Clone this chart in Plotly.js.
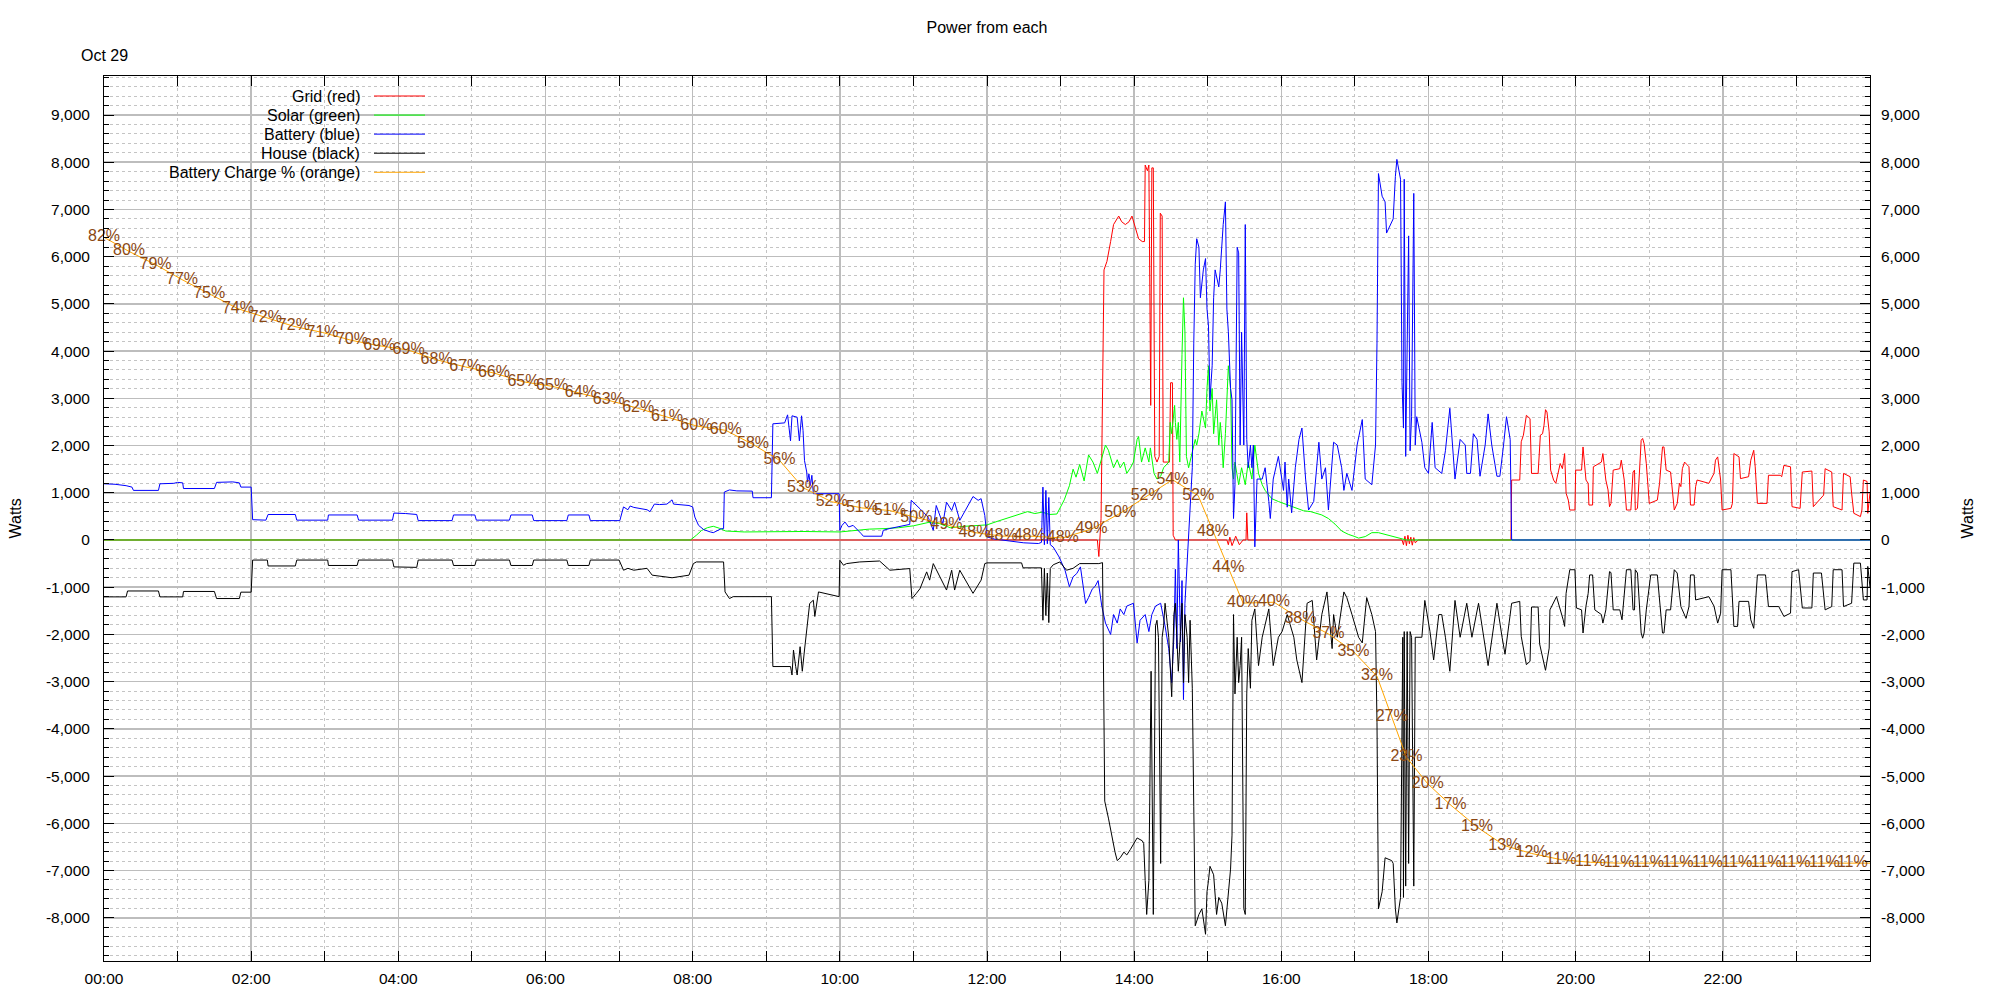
<!DOCTYPE html>
<html>
<head>
<meta charset="utf-8">
<script src="https://cdn.plot.ly/plotly-3.0.1.min.js"></script>
<style>html,body{margin:0;padding:0;background:#fff;}#chart{width:2000px;height:1000px;}</style>
</head>
<body>
<div id="chart"></div>
<script>
// ---------- DATA (hours of day, watts) ----------
const xTickVals = [0,2,4,6,8,10,12,14,16,18,20,22];
const xTickText = ["00:00","02:00","04:00","06:00","08:00","10:00","12:00","14:00","16:00","18:00","20:00","22:00"];
const yTickVals = [-8000,-7000,-6000,-5000,-4000,-3000,-2000,-1000,0,1000,2000,3000,4000,5000,6000,7000,8000,9000];
const yTickText = ["-8,000","-7,000","-6,000","-5,000","-4,000","-3,000","-2,000","-1,000","0","1,000","2,000","3,000","4,000","5,000","6,000","7,000","8,000","9,000"];

const seriesNames = ["Grid (red)","Solar (green)","Battery (blue)","House (black)","Battery Charge % (orange)"];
const seriesColors = ["#ff0000","#00ff00","#0000ff","#000000","#ffa500"];

const gridHours = [0,13.50,13.52,13.55,13.59,13.61,13.63,13.68,13.72,13.79,13.83,13.88,13.93,13.97,14.02,14.06,14.11,14.14,14.15,14.18,14.20,14.215,14.225,14.24,14.26,14.28,14.31,14.34,14.355,14.38,14.395,14.48,14.495,14.52,14.53,14.56,15.26,15.28,15.30,15.33,15.38,15.43,15.48,15.52,15.53,15.545,17.64,17.66,17.68,17.70,17.72,17.74,17.76,17.78,17.80,17.82,17.86,19.12,19.13,19.24,19.26,19.29,19.31,19.33,19.38,19.40,19.49,19.50,19.52,19.55,19.57,19.59,19.61,19.64,19.66,19.70,19.73,19.77,19.79,19.82,19.84,19.85,19.87,19.90,19.92,19.99,20.00,20.08,20.10,20.12,20.14,20.17,20.18,20.23,20.24,20.35,20.37,20.39,20.41,20.44,20.46,20.48,20.51,20.60,20.62,20.66,20.69,20.75,20.78,20.80,20.81,20.84,20.87,20.89,20.91,20.93,20.96,20.98,21.00,21.11,21.14,21.16,21.18,21.20,21.23,21.29,21.32,21.34,21.38,21.41,21.43,21.45,21.48,21.52,21.54,21.56,21.61,21.63,21.65,21.81,21.88,21.90,21.93,21.97,21.99,22.11,22.13,22.15,22.22,22.24,22.35,22.38,22.42,22.44,22.47,22.60,22.62,22.78,22.80,22.83,22.92,22.94,23.05,23.08,23.21,23.23,23.37,23.39,23.48,23.50,23.62,23.64,23.73,23.75,23.78,23.87,23.89,23.91,23.96,23.97,24.00];
const gridWatts = [0,0,-350,450,5720,5840,5900,6320,6680,6860,6740,6680,6740,6860,6560,6380,6320,6320,7940,7820,7940,4650,2850,7880,7880,1770,1650,1770,6920,6860,1650,1650,3330,3330,100,0,0,-100,60,-120,80,-100,0,0,575,0,0,-100,80,-120,100,-80,60,-110,50,-60,0,0,1270,1270,2080,2220,2460,2640,2570,1410,1410,1620,2220,2250,2430,2760,2710,2290,1480,1270,1200,1480,1620,1510,1800,1830,990,845,635,635,1480,1480,1970,1590,1270,1200,740,740,1550,1650,1830,1550,1270,1060,705,775,1480,1510,1690,1270,635,635,1440,1480,635,670,1620,2110,2150,2040,1620,1200,775,845,1200,1590,1970,1970,1480,1440,915,635,775,1200,1130,1510,1650,1580,1550,740,740,1130,1270,1200,1410,1690,1760,1270,635,670,775,1830,1760,1300,1340,1690,1900,1550,775,775,1370,1370,1340,1580,1550,705,670,1440,1460,705,950,1510,1440,705,635,1410,1340,990,565,495,635,1270,1240,565,1000];

const solarHours = [0,7.97,8.05,8.12,8.20,8.28,8.36,8.45,8.70,9.00,9.50,10.00,10.20,10.40,10.60,10.80,11.00,11.20,11.35,11.50,11.70,11.85,12.00,12.15,12.30,12.45,12.55,12.65,12.75,12.85,12.95,13.05,13.12,13.17,13.21,13.26,13.32,13.38,13.44,13.50,13.55,13.61,13.65,13.72,13.77,13.81,13.86,13.90,13.95,13.99,14.04,14.06,14.10,14.15,14.20,14.22,14.27,14.31,14.36,14.40,14.47,14.49,14.51,14.54,14.55,14.56,14.58,14.60,14.62,14.65,14.67,14.69,14.71,14.74,14.76,14.83,14.85,14.88,14.92,14.94,14.97,14.99,15.01,15.03,15.06,15.08,15.10,15.12,15.15,15.17,15.19,15.21,15.24,15.26,15.28,15.31,15.33,15.35,15.37,15.42,15.46,15.51,15.55,15.60,15.64,15.69,15.74,15.78,15.87,15.96,16.10,16.30,16.40,16.55,16.64,16.73,16.82,16.91,17.00,17.05,17.14,17.23,17.32,17.41,17.50,17.60,17.70,24.00];
const solarWatts = [0,0,100,200,260,290,250,190,170,175,180,170,200,230,240,260,300,370,350,260,290,300,320,400,480,560,600,560,590,540,550,850,1150,1500,1330,1600,1250,1800,1650,1410,1700,2010,1900,1530,1700,1530,1650,1410,1530,1650,2130,2190,1650,1950,1650,1950,1410,1290,1350,1530,1650,2490,2250,2730,2850,2490,2130,2490,1650,3930,5130,4400,1770,1530,1650,2130,2010,2250,2730,2610,2370,3210,3690,2730,3210,2250,2730,2970,2010,2490,2130,1530,2250,2970,3690,3210,1530,1290,1650,1170,1530,1170,1650,1290,2010,1410,1170,1050,875,815,740,620,600,530,455,335,190,120,72,40,72,155,155,120,72,40,0,0];

const batteryHours = [0,0.15,0.30,0.38,0.40,0.74,0.76,0.95,1.00,1.07,1.08,1.50,1.53,1.75,1.84,1.86,2.00,2.02,2.20,2.23,2.60,2.62,3.04,3.05,3.44,3.46,3.92,3.94,4.10,4.25,4.27,4.73,4.75,5.04,5.06,5.51,5.53,5.82,5.84,6.29,6.31,6.59,6.61,7.01,7.06,7.12,7.15,7.20,7.38,7.42,7.48,7.55,7.65,7.72,7.74,7.95,8.00,8.03,8.08,8.15,8.24,8.28,8.39,8.42,8.43,8.50,8.60,8.81,8.82,9.07,9.09,9.25,9.29,9.33,9.35,9.42,9.45,9.48,9.50,9.52,9.55,9.56,9.58,9.60,9.62,9.64,9.99,10.00,10.03,10.07,10.12,10.18,10.29,10.32,10.57,10.59,10.67,10.95,10.97,11.02,11.09,11.20,11.27,11.31,11.40,11.45,11.52,11.56,11.63,11.81,11.88,11.92,11.97,12.00,12.10,12.30,12.50,12.70,12.74,12.76,12.78,12.80,12.82,12.84,12.86,12.90,12.98,13.06,13.12,13.17,13.22,13.27,13.34,13.38,13.43,13.47,13.51,13.56,13.61,13.68,13.72,13.77,13.81,13.86,13.90,13.99,14.04,14.08,14.15,14.20,14.24,14.29,14.36,14.42,14.47,14.51,14.54,14.56,14.58,14.60,14.63,14.65,14.67,14.69,14.74,14.79,14.81,14.83,14.85,14.88,14.90,14.94,14.97,14.99,15.01,15.03,15.06,15.08,15.10,15.15,15.17,15.19,15.21,15.24,15.26,15.28,15.31,15.33,15.35,15.37,15.40,15.42,15.44,15.46,15.49,15.51,15.53,15.55,15.58,15.60,15.62,15.64,15.67,15.74,15.78,15.83,15.85,15.89,15.96,16.03,16.05,16.08,16.10,16.14,16.19,16.24,16.28,16.33,16.37,16.44,16.51,16.55,16.60,16.64,16.69,16.71,16.76,16.82,16.85,16.89,16.96,17.03,17.10,17.14,17.23,17.28,17.30,17.32,17.37,17.41,17.43,17.52,17.55,17.57,17.62,17.64,17.66,17.67,17.69,17.73,17.75,17.77,17.80,17.82,17.84,17.91,17.95,18.00,18.05,18.09,18.18,18.23,18.29,18.36,18.43,18.50,18.52,18.57,18.61,18.66,18.70,18.77,18.81,18.86,18.93,18.97,19.02,19.06,19.11,19.12,19.13,24.00];
const batteryWatts = [1190,1180,1150,1120,1050,1050,1190,1200,1220,1210,1090,1090,1220,1230,1210,1120,1120,430,420,540,540,420,420,530,530,420,420,570,560,540,410,410,530,530,420,420,530,530,410,410,530,530,410,410,700,640,720,690,640,600,760,750,760,850,760,730,700,485,310,220,170,155,240,240,1015,1060,1040,1035,895,895,2460,2480,2650,2100,2630,2600,2100,2630,2320,1680,1440,1225,1400,1155,1370,980,980,205,310,380,275,310,135,80,80,205,240,330,840,770,660,485,205,730,345,800,625,800,415,920,840,875,520,65,20,-20,-60,-75,-50,1120,-100,1050,-80,900,-100,-150,-360,-640,-990,-780,-710,-570,-1345,-1220,-1040,-980,-860,-1400,-1760,-2000,-1580,-1760,-1460,-1580,-1400,-1340,-2180,-1700,-1580,-1940,-1580,-1400,-1340,-1820,-2300,-3020,-2050,-620,-2300,0,-2160,-860,-3380,-1340,0,1530,4170,5840,6380,6200,5130,5720,5960,4890,4530,2970,3690,5130,5720,5360,5720,6320,6680,7160,4890,4410,3210,2970,455,1170,6200,6080,2010,4400,2010,6680,2130,1530,2010,1530,2010,-145,1290,1290,1530,815,455,1290,1770,1050,1650,695,1290,575,1530,2130,2370,1290,635,815,2070,1290,1530,635,1530,2070,2010,1530,1050,1410,1050,2010,2550,1290,1170,2010,4170,7760,7280,7160,6500,6800,7700,8060,7640,3330,2370,7640,1770,6440,1890,2610,7340,2010,2610,2070,1530,1410,2490,1530,1410,1890,2790,1290,2130,2010,1410,1410,2250,2130,1350,2010,2670,2010,1350,1350,2010,2610,2130,815,0,0];

const houseHours = [0,0.30,0.32,0.74,0.76,1.07,1.08,1.50,1.53,1.84,1.86,2.00,2.02,2.22,2.23,2.60,2.62,3.04,3.05,3.44,3.46,3.92,3.94,4.25,4.27,4.73,4.75,5.04,5.06,5.51,5.53,5.82,5.84,6.29,6.31,6.59,6.61,7.00,7.06,7.12,7.20,7.38,7.45,7.55,7.72,7.95,8.01,8.05,8.42,8.44,8.50,8.55,9.07,9.09,9.33,9.35,9.37,9.40,9.42,9.46,9.49,9.52,9.55,9.59,9.64,9.66,9.71,9.99,10.00,10.05,10.09,10.27,10.54,10.68,10.95,10.98,11.04,11.09,11.18,11.22,11.27,11.45,11.52,11.56,11.63,11.81,11.92,11.97,12.00,12.47,12.49,12.74,12.76,12.78,12.80,12.82,12.84,12.86,12.90,12.99,13.08,13.17,13.26,13.52,13.57,13.60,13.65,13.68,13.70,13.74,13.77,13.81,13.86,13.90,13.95,13.99,14.04,14.11,14.13,14.15,14.17,14.20,14.22,14.23,14.26,14.29,14.31,14.33,14.36,14.38,14.40,14.42,14.47,14.51,14.54,14.56,14.58,14.60,14.63,14.65,14.67,14.69,14.72,14.74,14.76,14.79,14.81,14.83,14.88,14.92,14.97,14.99,15.01,15.03,15.08,15.12,15.15,15.19,15.24,15.26,15.28,15.31,15.33,15.35,15.37,15.40,15.42,15.44,15.46,15.49,15.51,15.53,15.55,15.58,15.60,15.64,15.69,15.74,15.83,15.89,15.96,16.01,16.08,16.17,16.21,16.28,16.35,16.42,16.48,16.55,16.62,16.69,16.71,16.76,16.85,16.89,16.96,17.05,17.10,17.16,17.23,17.28,17.30,17.32,17.37,17.41,17.50,17.52,17.55,17.57,17.62,17.64,17.65,17.66,17.67,17.69,17.71,17.73,17.75,17.77,17.80,17.82,17.91,17.95,18.02,18.07,18.14,18.18,18.23,18.29,18.36,18.43,18.52,18.59,18.68,18.81,18.93,19.00,19.04,19.13,19.24,19.26,19.29,19.31,19.33,19.38,19.40,19.49,19.51,19.59,19.64,19.65,19.74,19.83,19.85,19.87,19.92,19.99,20.01,20.08,20.10,20.14,20.17,20.19,20.23,20.26,20.35,20.37,20.41,20.46,20.48,20.51,20.60,20.63,20.66,20.69,20.75,20.78,20.80,20.81,20.84,20.87,20.89,20.91,20.93,20.96,21.00,21.02,21.11,21.16,21.18,21.20,21.23,21.29,21.32,21.34,21.38,21.43,21.50,21.54,21.56,21.61,21.63,21.81,21.88,21.93,21.97,21.99,22.11,22.15,22.20,22.22,22.35,22.38,22.42,22.44,22.47,22.58,22.62,22.76,22.83,22.92,22.94,23.03,23.08,23.21,23.23,23.34,23.39,23.48,23.50,23.62,23.64,23.75,23.78,23.87,23.91,23.96,23.97,24.00];
const houseWatts = [-1205,-1205,-1080,-1080,-1205,-1205,-1090,-1090,-1240,-1240,-1105,-1105,-425,-425,-550,-550,-425,-425,-540,-540,-425,-425,-570,-580,-425,-425,-540,-540,-425,-425,-540,-540,-425,-425,-540,-540,-425,-425,-640,-600,-640,-600,-745,-760,-800,-745,-500,-465,-465,-1100,-1240,-1200,-1200,-2680,-2680,-2860,-2330,-2680,-2860,-2260,-2780,-2330,-1910,-1345,-1275,-1620,-1100,-1200,-430,-535,-500,-465,-445,-640,-605,-1240,-1130,-1030,-675,-850,-500,-1060,-640,-1060,-640,-1130,-850,-500,-485,-485,-590,-590,-1700,-600,-1600,-700,-1750,-600,-525,-465,-640,-600,-500,-500,-480,-5530,-5890,-6130,-6370,-6610,-6790,-6730,-6610,-6670,-6550,-6430,-6310,-6370,-6430,-7210,-7930,-7210,-4630,-2780,-7930,-1820,-1700,-2060,-6850,-2060,-1820,-1340,-2060,-3320,-1580,-1340,-2060,-2780,-1940,-1340,-3020,-1580,-2060,-3020,-1700,-3140,-5650,-8170,-7930,-7810,-8350,-7450,-7210,-6910,-7090,-7930,-7570,-7690,-8170,-7810,-7450,-6970,-6250,-1580,-3260,-2060,-3020,-2660,-2060,-7810,-7930,-3260,-2300,-3140,-1700,-1460,-2660,-2060,-1460,-2660,-2060,-1940,-1580,-2060,-2540,-3020,-1340,-1280,-2540,-1580,-1100,-2300,-1580,-2060,-1100,-1220,-1580,-2060,-2180,-1220,-1580,-1940,-3860,-7810,-7450,-6730,-6790,-6850,-7810,-8110,-7570,-3380,-2060,-7570,-1940,-7330,-1940,-6850,-1940,-2060,-7330,-2060,-2060,-1280,-1940,-2540,-1580,-1580,-2060,-2780,-1280,-2060,-1340,-2060,-1340,-2660,-1340,-2060,-2420,-1340,-1300,-2040,-2300,-2460,-2640,-2570,-1420,-1420,-2200,-2760,-2290,-1480,-1200,-1690,-1830,-1130,-630,-630,-1440,-1480,-1970,-1400,-1130,-740,-740,-1480,-1580,-1760,-1480,-670,-690,-1480,-1480,-1690,-1200,-630,-630,-1480,-1480,-630,-700,-1480,-1970,-2080,-1970,-1480,-990,-740,-740,-1550,-1970,-1970,-1480,-1480,-850,-630,-700,-1410,-1660,-1410,-740,-740,-1270,-1200,-1400,-1760,-1550,-630,-630,-1830,-1830,-1300,-1300,-1690,-1870,-1410,-740,-740,-1410,-1410,-1620,-1550,-670,-630,-1440,-1440,-700,-700,-1480,-1410,-630,-630,-1410,-1340,-490,-490,-1270,-1270,-560,-1000];

const pctHours = [0.00,0.34,0.70,1.06,1.43,1.82,2.20,2.58,2.97,3.37,3.74,4.14,4.52,4.91,5.30,5.70,6.09,6.48,6.86,7.26,7.65,8.05,8.45,8.82,9.18,9.50,9.89,10.30,10.68,11.04,11.45,11.83,12.20,12.58,13.03,13.42,13.81,14.17,14.52,14.87,15.07,15.28,15.48,15.90,16.26,16.64,16.98,17.30,17.50,17.70,17.99,18.30,18.66,19.03,19.40,19.80,20.20,20.59,20.99,21.39,21.79,22.19,22.59,22.98,23.38,23.76,24.00];
const pctValues = [82.1,80.5,79.0,77.3,75.7,74.0,73.0,72.0,71.3,70.4,69.8,69.3,68.2,67.4,66.7,65.7,65.2,64.4,63.6,62.7,61.7,60.7,60.2,58.6,56.8,53.7,52.1,51.4,51.1,50.3,49.5,48.6,48.2,48.2,48.0,49.0,50.8,52.7,54.6,52.8,48.7,44.6,40.6,40.7,38.8,37.1,35.1,32.3,27.7,23.1,20.1,17.7,15.2,13.1,12.2,11.5,11.2,11.1,11.1,11.1,11.1,11.1,11.1,11.1,11.1,11.1,11.1];
const pctText = ["82%","80%","79%","77%","75%","74%","72%","72%","71%","70%","69%","69%","68%","67%","66%","65%","65%","64%","63%","62%","61%","60%","60%","58%","56%","53%","52%","51%","51%","50%","49%","48%","48%","48%","48%","49%","50%","52%","54%","52%","48%","44%","40%","40%","38%","37%","35%","32%","27%","23%","20%","17%","15%","13%","12%","11%","11%","11%","11%","11%","11%","11%","11%","11%","11%","11%",""];

// ---------- STYLE ----------
const FONT = "Liberation Sans, Arial, Helvetica, sans-serif";
const L = 104, R = 1870, T = 76, B = 961, PW = R - L, PH = B - T;
const px2x = p => (p - L) / PW;
const py2y = p => (B - p) / PH;
const WRANGE = [-8916, 9826];

function lineTrace(x, y, color, name) {
  return {x: x, y: y, type: "scatter", mode: "lines", name: name,
          line: {color: color, width: 1}, hoverinfo: "skip"};
}

const traces = [
  // empty trace that only makes the right-hand Watts axis exist
  {x: [], y: [], yaxis: "y2", type: "scatter", mode: "lines", hoverinfo: "skip", showlegend: false},
  lineTrace(gridHours, gridWatts, seriesColors[0], seriesNames[0]),
  lineTrace(solarHours, solarWatts, seriesColors[1], seriesNames[1]),
  lineTrace(batteryHours, batteryWatts, seriesColors[2], seriesNames[2]),
  lineTrace(houseHours, houseWatts, seriesColors[3], seriesNames[3]),
  {x: pctHours, y: pctValues, text: pctText, yaxis: "y3", type: "scatter",
   mode: "lines+text", name: seriesNames[4], textposition: "middle center",
   line: {color: seriesColors[4], width: 1}, cliponaxis: false,
   textfont: {family: FONT, size: 16, color: "#8b4813"}, hoverinfo: "skip"}
];

const tickFont = {family: FONT, size: 15.5, color: "#000"};
const shapes = [{type: "rect", xref: "paper", yref: "paper", layer: "between",
  x0: 0, x1: px2x(433), y0: py2y(181), y1: py2y(87),
  fillcolor: "#ffffff", line: {width: 0}}];
const annotations = [
  {xref: "paper", yref: "paper", x: px2x(79), y: py2y(56), xanchor: "left", yanchor: "middle",
   text: "Oct 29", showarrow: false, font: {family: FONT, size: 16, color: "#000"}},
  {xref: "paper", yref: "paper", x: px2x(15), y: 0.5, xanchor: "center", yanchor: "middle",
   text: "Watts", textangle: -90, showarrow: false, font: {family: FONT, size: 16, color: "#000"}},
  {xref: "paper", yref: "paper", x: px2x(1967), y: 0.5, xanchor: "center", yanchor: "middle",
   text: "Watts", textangle: -90, showarrow: false, font: {family: FONT, size: 16, color: "#000"}}
];
seriesNames.forEach((n, i) => {
  const rowY = 96 + i * 19.07;
  annotations.push({xref: "paper", yref: "paper", x: px2x(362), y: py2y(rowY),
    xanchor: "right", yanchor: "middle", text: n, showarrow: false,
    font: {family: FONT, size: 16, color: "#000"}});
  shapes.push({type: "line", xref: "paper", yref: "paper", layer: "above",
    x0: px2x(374), x1: px2x(425), y0: py2y(rowY), y1: py2y(rowY),
    line: {color: seriesColors[i], width: 1}});
});

const layout = {
  width: 2000, height: 1000,
  margin: {l: L, r: 2000 - R, t: T, b: 1000 - B, pad: 0},
  paper_bgcolor: "#fff", plot_bgcolor: "#fff",
  showlegend: false,
  font: {family: FONT, size: 16, color: "#000"},
  title: {text: "Power from each", x: px2x(987), xref: "paper", xanchor: "center",
          y: 1 - 27 / 1000, yref: "container", yanchor: "middle",
          font: {family: FONT, size: 16, color: "#000"}},
  xaxis: {range: [0, 24], tickmode: "array", tickvals: xTickVals, ticktext: xTickText,
          ticks: "inside", ticklen: 10, tickwidth: 1, tickcolor: "#000",
          showline: true, linecolor: "#000", linewidth: 1, mirror: "allticks",
          showgrid: true, gridcolor: "#bdbdbd", gridwidth: 1.5, zeroline: false,
          tickfont: tickFont, ticklabelstandoff: 3,
          minor: {tickmode: "linear", tick0: 0, dtick: 1, ticks: "inside", ticklen: 5,
                  tickcolor: "#000", showgrid: true, gridcolor: "#c4c4c4", griddash: "dot", gridwidth: 1}},
  yaxis: {range: WRANGE, tickmode: "array", tickvals: yTickVals, ticktext: yTickText,
          ticks: "inside", ticklen: 10, tickwidth: 1, tickcolor: "#000",
          showline: true, linecolor: "#000", linewidth: 1, mirror: "allticks",
          showgrid: true, gridcolor: "#bdbdbd", gridwidth: 1.5, zeroline: false,
          tickfont: tickFont, ticklabelstandoff: 10,
          minor: {tickmode: "linear", tick0: 0, dtick: 200, ticks: "inside", ticklen: 5,
                  tickcolor: "#000", showgrid: true, gridcolor: "#c4c4c4", griddash: "dot", gridwidth: 1}},
  yaxis2: {range: WRANGE, overlaying: "y", side: "right", anchor: "x",
           tickmode: "array", tickvals: yTickVals, ticktext: yTickText,
           ticks: "", showgrid: false, showline: false, zeroline: false,
           tickfont: tickFont, ticklabelstandoff: 10},
  yaxis3: {range: [0, 100.4], overlaying: "y", side: "right", anchor: "x",
           visible: false, showgrid: false, zeroline: false},
  shapes: shapes,
  annotations: annotations
};

Plotly.newPlot("chart", traces, layout, {displayModeBar: false, staticPlot: true});
</script>
</body>
</html>
